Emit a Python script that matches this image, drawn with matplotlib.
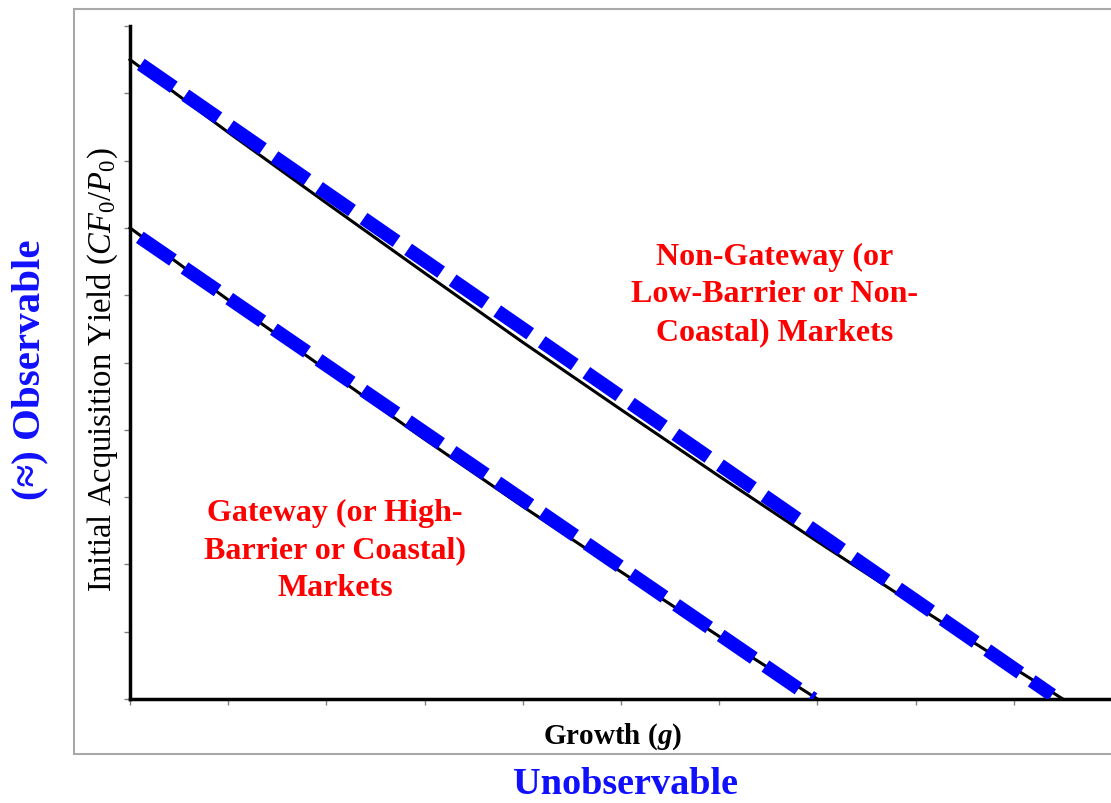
import matplotlib
matplotlib.use("Agg")
import matplotlib.pyplot as plt
from matplotlib.patches import Rectangle

plt.rcParams['font.family'] = ['Liberation Serif', 'DejaVu Serif']
plt.rcParams['mathtext.fontset'] = 'custom'
plt.rcParams['mathtext.rm'] = 'Liberation Serif'
plt.rcParams['mathtext.it'] = 'Liberation Serif:italic'
plt.rcParams['mathtext.bf'] = 'Liberation Serif:bold'
plt.rcParams['mathtext.bfit'] = 'Liberation Serif:italic:bold'

# yield vs growth curves (black) for the two market types
nongw_g = [0, 1, 2, 3, 4, 5, 6, 7, 8, 9, 9.5]
nongw_y = [9.5, 8.42, 7.37, 6.33, 5.30, 4.30, 3.31, 2.34, 1.39, 0.46, 0]
gw_g = [0, 1, 2, 3, 4, 5, 6, 7]
gw_y = [7.0, 5.93, 4.89, 3.86, 2.86, 1.89, 0.93, 0]

# straight dashed approximations (blue)
nongw_line_g = [0.11, 9.39]
nongw_line_y = [9.43, 0.06]
gw_line_g = [0.10, 6.96]
gw_line_y = [6.86, 0.0]

ticks = list(range(11))

fig = plt.figure(figsize=(11.11, 8.04), dpi=100)
fig.patch.set_facecolor('white')

# frame round the plot
fig.patches.append(Rectangle((74 / 1111, 49 / 804), 1.0, 745 / 804,
                             transform=fig.transFigure, fc='white',
                             ec='#a8a8a8', lw=1.5, zorder=-5))

ax = fig.add_axes([130 / 1111, 104 / 804, 982 / 1111, 673 / 804])
ax.set_zorder(2)
ax.set_facecolor('none')
ax.set_xlim(0, 10)
ax.set_ylim(0, 10)
for s in ['top', 'right']:
    ax.spines[s].set_visible(False)
for s in ['left', 'bottom']:
    ax.spines[s].set_linewidth(2.5)
    ax.spines[s].set_color('black')
ax.set_xticks(ticks)
ax.set_yticks(ticks)
ax.set_xticklabels([])
ax.set_yticklabels([])
ax.tick_params(direction='out', length=4, width=1, color='#808080')

ax.plot(nongw_g, nongw_y, color='black', lw=2.2, zorder=2, clip_on=False)
ax.plot(gw_g, gw_y, color='black', lw=2.2, zorder=2, clip_on=False)
ax.plot(nongw_line_g, nongw_line_y, color='#0000ff', lw=9.8,
        dashes=(2.95, 1.03), solid_capstyle='butt', zorder=3)
ax.plot(gw_line_g, gw_line_y, color='#0000ff', lw=9.8,
        dashes=(2.95, 1.03), solid_capstyle='butt', zorder=3)

ax.text(6.56, 6.02, 'Non-Gateway (or\nLow-Barrier or Non-\nCoastal) Markets',
        ha='center', va='center', color='#ff0000', fontsize=23,
        fontweight='bold', linespacing=1.39)
ax.text(2.09, 2.22, 'Gateway (or High-\nBarrier or Coastal)\nMarkets',
        ha='center', va='center', color='#ff0000', fontsize=23,
        fontweight='bold', linespacing=1.39)

fig.text(103 / 1111, 1 - 370 / 804, 'Initial Acquisition Yield ($CF_0/P_0$)',
         rotation=90, ha='center', va='center', fontsize=23.5)
fig.text(613 / 1111, 1 - 737 / 804, r'Growth ($\mathbfit{g}$)',
         ha='center', va='center', fontsize=21, fontweight='bold')
fig.text(30 / 1111, 1 - 370 / 804, '(≈) Observable', rotation=90,
         ha='center', va='center', fontsize=29.5, fontweight='bold',
         color='#1010ff')
fig.text(626 / 1111, 1 - 785 / 804, 'Unobservable', ha='center',
         va='center', fontsize=27.5, fontweight='bold', color='#1010ff')

fig.savefig('out.png', dpi=100)
